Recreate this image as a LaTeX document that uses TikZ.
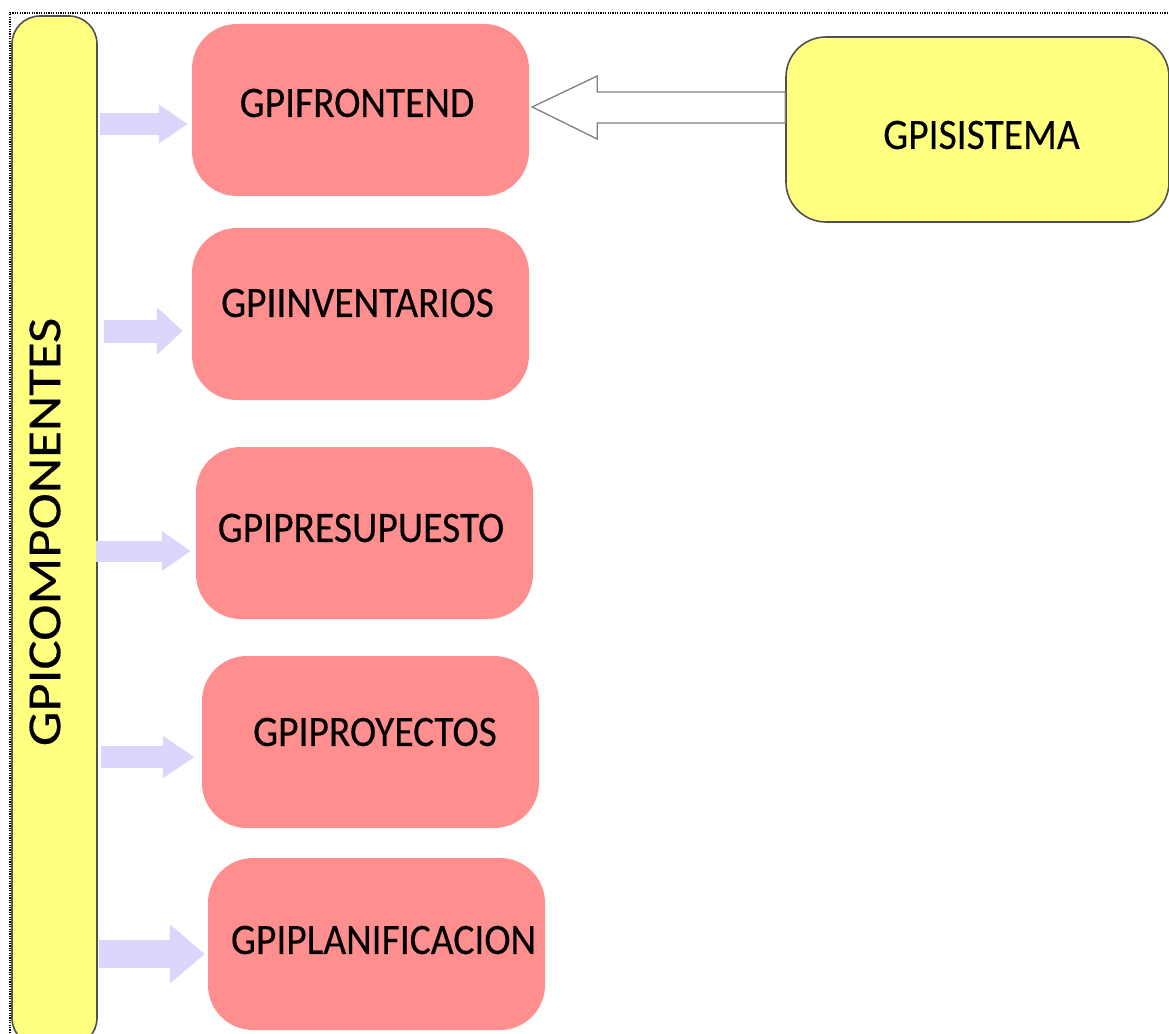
\documentclass[tikz,border=0pt]{standalone}
\usepackage{fontspec}
\setmainfont{Carlito}[FakeBold=0.3]
\usetikzlibrary{arrows.meta,calc}
\definecolor{pinkfill}{RGB}{255,143,143}
\definecolor{yelfill}{RGB}{255,255,128}
\definecolor{lavfill}{RGB}{219,214,251}
\definecolor{edgegray}{RGB}{80,80,80}
\newcommand{\stretchtxt}[1]{\scalebox{1}[1.1]{#1}}
\tikzset{
  pinkbox/.style={rectangle, rounded corners=45pt, fill=pinkfill, minimum width=337pt, minimum height=172pt, inner sep=0pt},
  yelbox/.style={rectangle, rounded corners=40pt, fill=yelfill, draw=edgegray, line width=1.6pt, inner sep=0pt},
  txt/.style={font=\fontsize{39.5}{46}\selectfont, inner sep=0pt, text=black},
  lavarrow/.style={draw=lavfill, line width=#1},
  hollow/.style={draw=gray, fill=white, line width=1.3pt, line join=miter}
}
\begin{document}
\begin{tikzpicture}[x=1pt,y=-1pt]
\useasboundingbox (0,0) rectangle (1169,1033);
\clip (0,0) rectangle (1169,1033);
% dotted frame
\draw[line width=1.2pt, dash pattern=on 1.2pt off 1.2pt] (10,1033) -- (10,13) -- (1169,13);
% left bar
\node[yelbox, rounded corners=28pt, minimum width=85pt, minimum height=1030pt] (bar) at (54.5,531) {};
\node[txt, rotate=90, font=\fontsize{46}{52}\selectfont] (bartxt) at (45,532) {\scalebox{1.19}[1.03]{GPICOMPONENTES}};
% pink boxes
\node[pinkbox] (fe)  at (360.5,110) {};
\node[pinkbox] (inv) at (360.5,314) {};
\node[pinkbox] (pre) at (364.5,533) {};
\node[pinkbox] (pro) at (370.5,742) {};
\node[pinkbox] (pla) at (376.5,944) {};
\node[txt] (fetxt)  at (357,103) {\stretchtxt{GPIFRONTEND}};
\node[txt] (invtxt) at (357.5,303) {\stretchtxt{GPIINVENTARIOS}};
\node[txt] (pretxt) at (361,528) {\stretchtxt{GPIPRESUPUESTO}};
\node[txt] (protxt) at (375,732) {\stretchtxt{GPIPROYECTOS}};
\node[txt] (platxt) at (383.5,940) {\stretchtxt{GPIPLANIFICACION}};
% system box
\node[yelbox, minimum width=383pt, minimum height=185pt] (sis) at (977.5,129.5) {};
\node[txt] (sistxt) at (981.5,135) {\stretchtxt{GPISISTEMA}};
% lavender arrows
\draw[lavarrow=22pt, -{Triangle[width=37pt 0, length=29pt 0, fill=lavfill, color=lavfill]}]
  ([xshift=2pt]bar.east |- 0,124) -- ([xshift=-4pt]fe.west |- 0,124);
\draw[lavarrow=23pt, -{Triangle[width=46pt 0, length=26pt 0, fill=lavfill, color=lavfill]}]
  ([xshift=6pt]bar.east |- 0,331) -- ([xshift=-9pt]inv.west |- 0,331);
\draw[lavarrow=21pt, -{Triangle[width=38pt 0, length=29pt 0, fill=lavfill, color=lavfill]}]
  ([xshift=-2pt]bar.east |- 0,551) -- ([xshift=-5pt]pre.west |- 0,551);
\draw[lavarrow=22pt, -{Triangle[width=40pt 0, length=32pt 0, fill=lavfill, color=lavfill]}]
  ([xshift=3pt]bar.east |- 0,757) -- ([xshift=-7pt]pro.west |- 0,757);
\draw[lavarrow=28pt, -{Triangle[width=57pt 0, length=35pt 0, fill=lavfill, color=lavfill]}]
  ([xshift=1pt]bar.east |- 0,954) -- ([xshift=-3pt]pla.west |- 0,954);
% hollow arrow from system to frontend
\coordinate (tip) at ([xshift=3pt]fe.east |- 0,107);
\draw[hollow] (tip) -- ++(65,-31) -- ++(0,16) -- (sis.west |- 0,92)
  -- (sis.west |- 0,123) -- ($(tip)+(65,16)$) -- ($(tip)+(65,32)$) -- cycle;
\end{tikzpicture}
\end{document}
